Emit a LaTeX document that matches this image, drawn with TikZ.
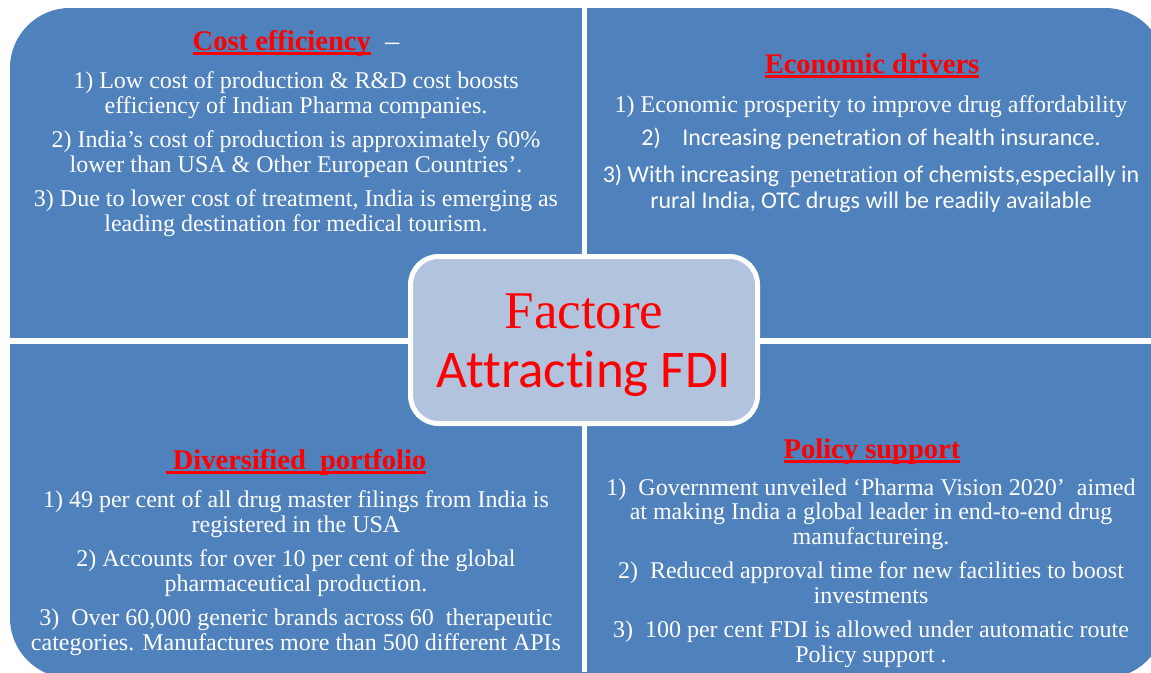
\documentclass[tikz,border=0pt]{standalone}
\usepackage{fontspec}
\setmainfont{Liberation Serif}
\newfontfamily\calibri[Ligatures=NoCommon]{Carlito}
\definecolor{quadblue}{HTML}{4F81BD}
\definecolor{hubfill}{HTML}{B2C3DE}
\newcommand\headline[1]{\setbox0\hbox{#1}\rlap{\rule[-4.5pt]{\wd0}{2.2pt}}\box0}
\newcommand\bodygap{10pt}

\begin{document}
\begin{tikzpicture}[x=1pt,y=-1pt,
	head/.style={text=red,font=\fontsize{28.5}{32}\selectfont\bfseries,anchor=base,inner sep=0pt},
	body/.style={text=white,align=center,font=\fontsize{24}{24.5}\selectfont,inner sep=0pt},
	hub/.style={draw=white,line width=5pt,fill=hubfill,rounded corners=28pt,
		minimum width=347pt,minimum height=167pt}]
	\clip (0,0) rectangle (1151,672);
	\fill[quadblue,rounded corners=60pt] (10,8) rectangle (1165,678);
	\draw[white,line width=5pt] (584.5,0) -- (584.5,672);
	\draw[white,line width=6pt] (0,341) -- (1151,341);

	\node[head] (cost) at (296,50) {\headline{Cost efficiency}{\color{white}\mdseries\ \ –}};
	\node[body] (costtext) at (296,154) {1) Low cost of production \& R\&D cost boosts\\
		efficiency of Indian Pharma companies.\\[\bodygap]
		2) India’s cost of production is approximately 60\%\\
		lower than USA \& Other European Countries’.\\[\bodygap]
		3) Due to lower cost of treatment, India is emerging as\\
		leading destination for medical tourism.};

	\node[head] (econ) at (872,73) {\headline{Economic drivers}};
	\node[body] (econtext) at (871,154) {1) Economic prosperity to improve drug affordability\\[8.5pt]
		{\calibri 2)\hspace{0.9em}Increasing penetration of health insurance.}\\[13pt]
		{\calibri 3) With increasing\ \ }penetration{\calibri\ of chemists,especially in}\\[1.5pt]
		{\calibri rural India, OTC drugs will be readily available}};

	\node[head] (diverse) at (296,469) {\headline{\ Diversified\ \ portfolio}};
	\node[body] (diversetext) at (296,573) {1) 49 per cent of all drug master filings from India is\\
		registered in the USA\\[\bodygap]
		2) Accounts for over 10 per cent of the global\\
		pharmaceutical production.\\[\bodygap]
		3)\ \ Over 60,000 generic brands across 60\ \ therapeutic\\
		categories. Manufactures more than 500 different APIs};

	\node[head] (policy) at (872,458) {\headline{Policy support}};
	\node[body] (policytext) at (871,573) {1)\ \ Government unveiled ‘Pharma Vision 2020’\ \ aimed\\
		at making India a global leader in end-to-end drug\\
		manufactureing.\\[\bodygap]
		2)\ \ Reduced approval time for new facilities to boost\\
		investments\\[\bodygap]
		3)\ \ 100 per cent FDI is allowed under automatic route\\
		Policy support .};

	\node[hub] (fdi) at (584,340) {};
	\node[text=red,align=center,inner sep=0pt,font=\fontsize{53}{59}\selectfont] (fditext) at (584,345.5)
		{Factore\\ {\calibri Attracting FDI}};
\end{tikzpicture}
\end{document}
